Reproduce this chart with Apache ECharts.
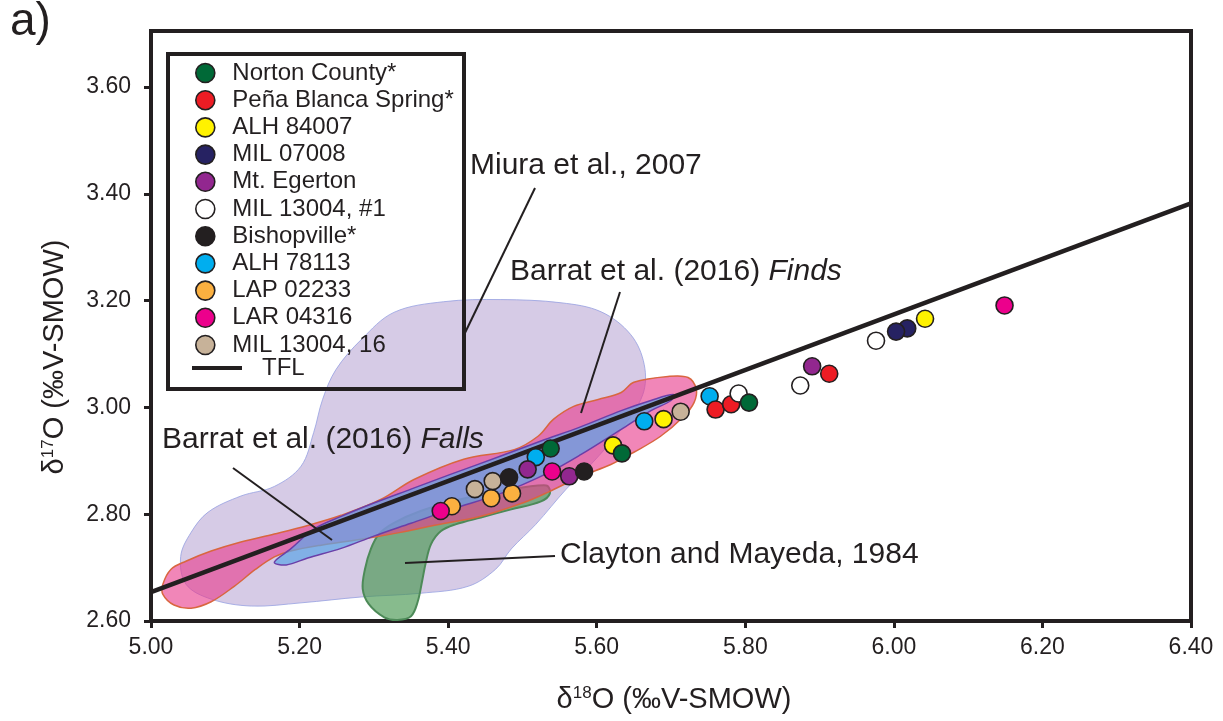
<!DOCTYPE html>
<html><head><meta charset="utf-8">
<script src="https://cdn.jsdelivr.net/npm/echarts@6/dist/echarts.min.js"></script>
<style>html,body{margin:0;padding:0;background:#fff}#c{width:1223px;height:721px}</style>
</head><body><div id="c"></div><script>
// ---- tick labels ----
const xTicks = [5.0, 5.2, 5.4, 5.6, 5.8, 6.0, 6.2, 6.4];
const yTicks = [2.6, 2.8, 3.0, 3.2, 3.4, 3.6];

// ---- series values [d18O, d17O] ----
const nortonCounty   = [[5.538, 2.923], [5.634, 2.914], [5.805, 3.009]];
const penaBlanca     = [[5.760, 2.996], [5.781, 3.006], [5.913, 3.063]];
const alh84007       = [[5.622, 2.929], [5.690, 2.978], [6.042, 3.166]];
const mil07008       = [[6.018, 3.148], [6.003, 3.142]];
const mtEgerton      = [[5.507, 2.884], [5.563, 2.871], [5.890, 3.077]];
const mil13004n1     = [[5.791, 3.026], [5.874, 3.041], [5.976, 3.125]];
const bishopville    = [[5.482, 2.869], [5.583, 2.880]];
const alh78113       = [[5.518, 2.907], [5.664, 2.974], [5.752, 3.021]];
const lap02233       = [[5.405, 2.815], [5.458, 2.830], [5.486, 2.839]];
const lar04316       = [[5.390, 2.806], [5.540, 2.880], [6.149, 3.191]];
const mil13004n16    = [[5.436, 2.847], [5.460, 2.862], [5.713, 2.992]];
const tfl            = [[5.00, 2.654], [6.40, 3.382]];

// ---- fields (outline vertices in data units) ----
const miuraRegion = [[5.040,2.721],[5.054,2.766],[5.077,2.804],[5.121,2.834],[5.166,2.852],[5.202,2.890],[5.219,2.953],[5.231,3.015],[5.249,3.071],[5.283,3.127],[5.327,3.178],[5.394,3.198],[5.471,3.202],[5.552,3.196],[5.606,3.179],[5.646,3.136],[5.664,3.080],[5.662,3.024],[5.633,2.959],[5.592,2.893],[5.559,2.847],[5.518,2.781],[5.485,2.735],[5.464,2.697],[5.427,2.665],[5.363,2.652],[5.283,2.645],[5.202,2.634],[5.135,2.628],[5.081,2.641],[5.047,2.669]];
const claytonRegion = [[5.532,2.854],[5.537,2.839],[5.525,2.824],[5.485,2.809],[5.444,2.794],[5.410,2.781],[5.390,2.768],[5.377,2.744],[5.370,2.710],[5.365,2.675],[5.359,2.636],[5.350,2.609],[5.332,2.602],[5.314,2.607],[5.293,2.632],[5.285,2.660],[5.288,2.697],[5.296,2.735],[5.307,2.763],[5.326,2.783],[5.363,2.806],[5.417,2.828],[5.471,2.843]];
const findsRegion = [[5.016,2.669],[5.027,2.697],[5.047,2.712],[5.081,2.731],[5.121,2.748],[5.166,2.763],[5.211,2.779],[5.256,2.798],[5.310,2.828],[5.354,2.865],[5.421,2.903],[5.489,2.921],[5.521,2.946],[5.542,2.978],[5.569,3.002],[5.602,3.015],[5.633,3.028],[5.650,3.047],[5.696,3.058],[5.723,3.056],[5.734,3.034],[5.731,3.009],[5.717,2.983],[5.686,2.946],[5.650,2.916],[5.619,2.893],[5.579,2.871],[5.534,2.841],[5.502,2.822],[5.444,2.796],[5.377,2.778],[5.336,2.766],[5.283,2.753],[5.229,2.742],[5.188,2.731],[5.166,2.720],[5.141,2.697],[5.112,2.665],[5.081,2.636],[5.054,2.624],[5.031,2.630],[5.016,2.650]];
const fallsRegion = [[5.166,2.710],[5.188,2.735],[5.219,2.772],[5.256,2.796],[5.300,2.821],[5.350,2.847],[5.404,2.875],[5.471,2.909],[5.525,2.937],[5.579,2.964],[5.633,2.994],[5.673,3.013],[5.703,3.024],[5.700,3.013],[5.673,2.994],[5.633,2.959],[5.579,2.912],[5.534,2.877],[5.471,2.839],[5.404,2.809],[5.350,2.783],[5.300,2.759],[5.256,2.736],[5.211,2.718],[5.182,2.705]];

const INK = '#231f20';
const FONT = '"Liberation Sans", Arial, Helvetica, sans-serif';

function regionSeries(name, pts, fill, stroke, lw, z) {
  return {
    type: 'custom', name: name, data: pts, z: z, silent: true,
    encode: { x: 0, y: 1 },
    renderItem: function (params, api) {
      if (params.dataIndex !== 0) return null;
      const points = pts.map(function (p) { return api.coord(p); });
      return { type: 'polygon', shape: { points: points, smooth: 0.35 },
               style: { fill: fill, stroke: stroke, lineWidth: lw } };
    }
  };
}
function pts(name, data, color, z) {
  return { type: 'scatter', name: name, data: data, symbol: 'circle', symbolSize: 17, z: z,
           silent: true,
           itemStyle: { color: color, borderColor: INK, borderWidth: 1.6, opacity: 1 } };
}

const pointSeries = [
  pts('Norton County*', nortonCounty, '#006937', 13),
  pts('Peña Blanca Spring*', penaBlanca, '#ed1c24', 12),
  pts('ALH 84007', alh84007, '#fff200', 12),
  pts('MIL 07008', mil07008, '#262262', 12),
  pts('Mt. Egerton', mtEgerton, '#92278f', 12),
  pts('MIL 13004, #1', mil13004n1, '#ffffff', 12),
  pts('Bishopville*', bishopville, INK, 12),
  pts('ALH 78113', alh78113, '#00aeef', 11),
  pts('LAP 02233', lap02233, '#fbb040', 11),
  pts('LAR 04316', lar04316, '#ec008c', 12),
  pts('MIL 13004, 16', mil13004n16, '#c7b299', 11)
];

const titleRich = { a: { fontSize: 29, fontFamily: FONT, color: INK }, s: { fontSize: 17, fontFamily: FONT, color: INK, verticalAlign: 'top', padding: [0, 0, 12, 0] } };

const chart = echarts.init(document.getElementById('c'), null, { renderer: 'canvas' });
chart.setOption({
  animation: false,
  backgroundColor: '#ffffff',
  textStyle: { fontFamily: FONT, color: INK },
  grid: { left: 151, right: 32, top: 31, bottom: 100, show: true, borderColor: INK, borderWidth: 4, backgroundColor: 'transparent' },
  xAxis: {
    type: 'value', min: 5.0, max: 6.4, interval: 0.2,
    name: '{a|δ}{s|18}{a|O (‰V-SMOW)}', nameLocation: 'middle', nameGap: 64,
    nameTextStyle: { rich: titleRich, padding: [0, 0, 0, 6] },
    axisLine: { show: false },
    axisTick: { show: true, length: 7, lineStyle: { color: INK, width: 3 }, customValues: xTicks },
    axisLabel: { fontSize: 23, color: INK, fontFamily: FONT, margin: 15, customValues: xTicks, formatter: function (v) { return v.toFixed(2); } },
    splitLine: { show: false }
  },
  yAxis: {
    type: 'value', min: 2.6, max: 3.705, interval: 0.2,
    name: '{a|δ}{s|17}{a|O (‰V-SMOW)}', nameLocation: 'middle', nameGap: 82, nameRotate: 90,
    nameTextStyle: { rich: titleRich, padding: [0, 62, 0, 0] },
    axisLine: { show: false },
    axisTick: { show: true, length: 7, lineStyle: { color: INK, width: 3 }, customValues: yTicks },
    axisLabel: { fontSize: 23, color: INK, fontFamily: FONT, margin: 20, customValues: yTicks, formatter: function (v) { return v.toFixed(2); } },
    splitLine: { show: false }
  },
  legend: [
    {
      data: pointSeries.map(function (s) { return s.name; }),
      orient: 'vertical', left: 195, top: 61, padding: 0, itemGap: 3.2,
      itemWidth: 40, itemHeight: 19, icon: 'circle', selectedMode: false,
      itemStyle: { borderColor: INK, borderWidth: 1.6 },
      textStyle: { fontSize: 24, lineHeight: 24, color: INK, fontFamily: FONT, padding: [0, 0, 0, 2] }
    },
    {
      data: ['TFL'], orient: 'vertical', left: 192, top: 356, padding: 0,
      itemWidth: 50, itemHeight: 4, icon: 'rect', selectedMode: false,
      textStyle: { fontSize: 24, lineHeight: 24, color: INK, fontFamily: FONT, padding: [0, 0, 0, 15] }
    }
  ],
  graphic: [
    { type: 'text', left: 10, top: -1, z: 100, style: { text: 'a)', fontSize: 46, fontFamily: FONT, fill: INK } },
    { type: 'rect', z: 100, shape: { x: 168, y: 54, width: 296, height: 335 }, style: { fill: 'none', stroke: INK, lineWidth: 4 } },
    { type: 'text', z: 100, x: 470, y: 166, style: { text: 'Miura et al., 2007', fontSize: 30, fontFamily: FONT, fill: INK, verticalAlign: 'middle' } },
    { type: 'line', z: 100, shape: { x1: 535, y1: 188, x2: 463, y2: 337 }, style: { stroke: INK, lineWidth: 2 } },
    { type: 'text', z: 100, x: 510, y: 272, style: { text: 'Barrat et al. (2016) {i|Finds}', fontSize: 30, fontFamily: FONT, fill: INK, verticalAlign: 'middle', rich: { i: { fontStyle: 'italic', fontSize: 30, fontFamily: FONT, fill: INK } } } },
    { type: 'line', z: 100, shape: { x1: 620, y1: 292, x2: 581, y2: 413 }, style: { stroke: INK, lineWidth: 2 } },
    { type: 'text', z: 100, x: 162, y: 440, style: { text: 'Barrat et al. (2016) {i|Falls}', fontSize: 30, fontFamily: FONT, fill: INK, verticalAlign: 'middle', rich: { i: { fontStyle: 'italic', fontSize: 30, fontFamily: FONT, fill: INK } } } },
    { type: 'line', z: 100, shape: { x1: 233, y1: 468, x2: 332, y2: 540 }, style: { stroke: INK, lineWidth: 2 } },
    { type: 'text', z: 100, x: 560, y: 555, style: { text: 'Clayton and Mayeda, 1984', fontSize: 30, fontFamily: FONT, fill: INK, verticalAlign: 'middle' } },
    { type: 'line', z: 100, shape: { x1: 405, y1: 563, x2: 555, y2: 556 }, style: { stroke: INK, lineWidth: 2 } }
  ],
  series: [
    regionSeries('Miura et al., 2007', miuraRegion, 'rgba(180,160,210,0.55)', 'rgba(150,160,225,0.8)', 1, 1),
    regionSeries('Clayton and Mayeda, 1984', claytonRegion, 'rgba(70,150,80,0.65)', '#4d8a58', 2, 2),
    regionSeries('Barrat Finds', findsRegion, 'rgba(232,60,140,0.62)', '#d9663f', 1.5, 3),
    regionSeries('Barrat Falls', fallsRegion, 'rgba(95,165,230,0.72)', '#6a3fa8', 1.5, 4),
    { type: 'line', name: 'TFL', data: tfl, symbol: 'none', showSymbol: false, z: 6, silent: true,
      lineStyle: { color: INK, width: 4.5 }, itemStyle: { color: INK } }
  ].concat(pointSeries)
});
</script></body></html>
